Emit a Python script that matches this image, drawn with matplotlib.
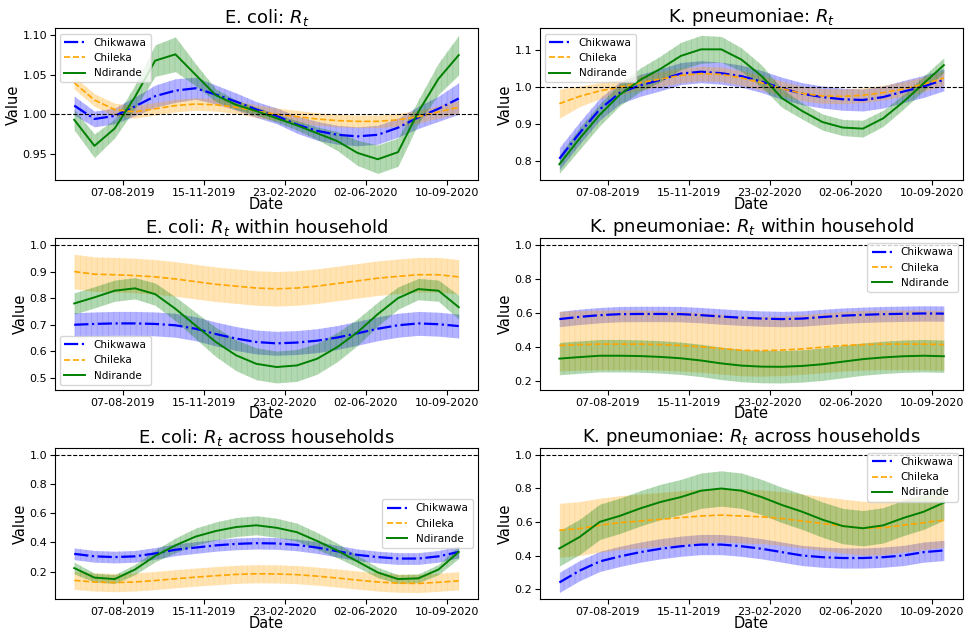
import matplotlib
matplotlib.use("Agg")
import matplotlib.pyplot as plt
import matplotlib.dates as mdates
import numpy as np
import pandas as pd

# dates of the Rt estimates (every 25 days)
dates = pd.date_range("2019-06-08", periods=20, freq="25D")
tick_dates = pd.to_datetime(["2019-08-07", "2019-11-15", "2020-02-23", "2020-06-02", "2020-09-10"])

sites = ["Chikwawa", "Chileka", "Ndirande"]

# E. coli: Rt
ecoli_rt_chikwawa = [1.011, 0.994, 0.998, 1.010, 1.023, 1.030, 1.033, 1.025, 1.016, 1.006,
                     0.998, 0.987, 0.979, 0.974, 0.972, 0.974, 0.983, 0.996, 1.007, 1.020]
ecoli_rt_chikwawa_err = [0.012, 0.010, 0.010, 0.012, 0.014, 0.015, 0.014, 0.012, 0.011, 0.010,
                         0.010, 0.011, 0.012, 0.012, 0.012, 0.012, 0.012, 0.014, 0.016, 0.020]
ecoli_rt_chileka = [1.040, 1.018, 1.006, 1.003, 1.007, 1.011, 1.013, 1.012, 1.009, 1.004,
                    1.000, 0.997, 0.994, 0.992, 0.991, 0.991, 0.993, 0.997, 1.003, 1.009]
ecoli_rt_chileka_err = 0.008
ecoli_rt_ndirande = [0.993, 0.960, 0.982, 1.022, 1.068, 1.076, 1.050, 1.024, 1.012, 1.004,
                     0.995, 0.986, 0.976, 0.966, 0.951, 0.943, 0.952, 1.003, 1.045, 1.075]
ecoli_rt_ndirande_err = [0.013, 0.015, 0.012, 0.015, 0.020, 0.022, 0.014, 0.008, 0.006, 0.005,
                         0.005, 0.006, 0.008, 0.012, 0.016, 0.018, 0.018, 0.015, 0.020, 0.025]

# K. pneumoniae: Rt
kp_rt_chikwawa = [0.805, 0.875, 0.940, 0.985, 1.005, 1.020, 1.037, 1.042, 1.038, 1.030,
                  1.015, 0.997, 0.982, 0.973, 0.967, 0.965, 0.973, 0.988, 1.002, 1.020]
kp_rt_chikwawa_err = 0.03
kp_rt_chileka = [0.955, 0.975, 0.990, 1.000, 1.012, 1.022, 1.032, 1.037, 1.035, 1.025,
                 1.012, 0.996, 0.983, 0.976, 0.975, 0.978, 0.985, 0.995, 1.008, 1.025]
kp_rt_chileka_err = [0.040, 0.028, 0.022, 0.020, 0.020, 0.020, 0.020, 0.020, 0.020, 0.020,
                     0.020, 0.020, 0.020, 0.020, 0.020, 0.020, 0.020, 0.020, 0.020, 0.020]
kp_rt_ndirande = [0.790, 0.860, 0.925, 0.980, 1.020, 1.050, 1.085, 1.103, 1.103, 1.075,
                  1.030, 0.970, 0.935, 0.905, 0.890, 0.887, 0.915, 0.960, 1.010, 1.060]
kp_rt_ndirande_err = [0.025, 0.030, 0.030, 0.030, 0.032, 0.035, 0.037, 0.038, 0.035, 0.032,
                      0.030, 0.025, 0.022, 0.022, 0.022, 0.023, 0.022, 0.020, 0.020, 0.020]

# E. coli: Rt within household
ecoli_within_chikwawa = [0.700, 0.703, 0.705, 0.705, 0.703, 0.698, 0.685, 0.665, 0.648, 0.635,
                         0.630, 0.633, 0.640, 0.652, 0.668, 0.685, 0.698, 0.705, 0.702, 0.695]
ecoli_within_chikwawa_err = 0.045
ecoli_within_chileka = [0.900, 0.890, 0.888, 0.885, 0.880, 0.872, 0.862, 0.852, 0.845, 0.838,
                        0.835, 0.838, 0.845, 0.855, 0.865, 0.875, 0.882, 0.888, 0.888, 0.880]
ecoli_within_chileka_err = 0.065
ecoli_within_ndirande = [0.780, 0.803, 0.828, 0.837, 0.815, 0.760, 0.697, 0.635, 0.585, 0.553,
                         0.541, 0.547, 0.572, 0.616, 0.672, 0.740, 0.800, 0.834, 0.828, 0.766]
ecoli_within_ndirande_err = [0.040, 0.040, 0.040, 0.040, 0.042, 0.045, 0.050, 0.055, 0.058, 0.060,
                             0.060, 0.060, 0.058, 0.055, 0.050, 0.045, 0.042, 0.040, 0.040, 0.045]

# K. pneumoniae: Rt within household
kp_within_chikwawa = [0.565, 0.578, 0.588, 0.594, 0.595, 0.595, 0.594, 0.588, 0.580, 0.573,
                      0.568, 0.565, 0.568, 0.577, 0.585, 0.590, 0.594, 0.596, 0.598, 0.597]
kp_within_chikwawa_err = 0.045
kp_within_chileka = [0.410, 0.415, 0.418, 0.418, 0.418, 0.415, 0.410, 0.403, 0.392, 0.382,
                     0.380, 0.383, 0.390, 0.400, 0.410, 0.415, 0.418, 0.418, 0.418, 0.415]
kp_within_chileka_err = (0.15, 0.20)
kp_within_ndirande = [0.333, 0.342, 0.350, 0.350, 0.348, 0.343, 0.335, 0.322, 0.305, 0.292,
                      0.286, 0.285, 0.290, 0.300, 0.315, 0.330, 0.340, 0.347, 0.350, 0.347]
kp_within_ndirande_err = 0.095

# E. coli: Rt across households
ecoli_across_chikwawa = [0.322, 0.305, 0.300, 0.305, 0.325, 0.350, 0.365, 0.380, 0.390, 0.395,
                         0.393, 0.383, 0.365, 0.340, 0.315, 0.300, 0.290, 0.290, 0.305, 0.335]
ecoli_across_chikwawa_err = 0.04
ecoli_across_chileka = [0.141, 0.130, 0.126, 0.130, 0.140, 0.152, 0.163, 0.173, 0.182, 0.186,
                        0.185, 0.180, 0.170, 0.157, 0.143, 0.130, 0.122, 0.120, 0.128, 0.138]
ecoli_across_chileka_err = 0.062
ecoli_across_ndirande = [0.225, 0.160, 0.150, 0.215, 0.308, 0.380, 0.440, 0.478, 0.505, 0.517,
                         0.500, 0.470, 0.410, 0.345, 0.270, 0.195, 0.150, 0.155, 0.215, 0.335]
ecoli_across_ndirande_err = [0.040, 0.030, 0.030, 0.035, 0.040, 0.050, 0.058, 0.062, 0.065, 0.065,
                             0.065, 0.062, 0.058, 0.050, 0.040, 0.035, 0.030, 0.030, 0.035, 0.045]

# K. pneumoniae: Rt across households
kp_across_chikwawa = [0.240, 0.310, 0.365, 0.395, 0.420, 0.440, 0.455, 0.465, 0.465, 0.455,
                      0.440, 0.420, 0.400, 0.390, 0.385, 0.385, 0.390, 0.400, 0.420, 0.430]
kp_across_chikwawa_err = 0.06
kp_across_chileka = [0.550, 0.560, 0.580, 0.595, 0.605, 0.615, 0.625, 0.635, 0.640, 0.635,
                     0.630, 0.620, 0.605, 0.590, 0.575, 0.562, 0.565, 0.580, 0.595, 0.610]
kp_across_chileka_err = 0.16
kp_across_ndirande = [0.442, 0.510, 0.600, 0.636, 0.680, 0.718, 0.747, 0.785, 0.798, 0.785,
                      0.747, 0.700, 0.660, 0.613, 0.575, 0.562, 0.579, 0.623, 0.660, 0.714]
kp_across_ndirande_err = 0.105

panels = [
    ("E. coli: $R_t$", [ecoli_rt_chikwawa, ecoli_rt_chileka, ecoli_rt_ndirande],
     [ecoli_rt_chikwawa_err, ecoli_rt_chileka_err, ecoli_rt_ndirande_err], "upper left"),
    ("K. pneumoniae: $R_t$", [kp_rt_chikwawa, kp_rt_chileka, kp_rt_ndirande],
     [kp_rt_chikwawa_err, kp_rt_chileka_err, kp_rt_ndirande_err], "upper left"),
    ("E. coli: $R_t$ within household", [ecoli_within_chikwawa, ecoli_within_chileka, ecoli_within_ndirande],
     [ecoli_within_chikwawa_err, ecoli_within_chileka_err, ecoli_within_ndirande_err], "lower left"),
    ("K. pneumoniae: $R_t$ within household", [kp_within_chikwawa, kp_within_chileka, kp_within_ndirande],
     [kp_within_chikwawa_err, kp_within_chileka_err, kp_within_ndirande_err], "upper right"),
    ("E. coli: $R_t$ across households", [ecoli_across_chikwawa, ecoli_across_chileka, ecoli_across_ndirande],
     [ecoli_across_chikwawa_err, ecoli_across_chileka_err, ecoli_across_ndirande_err], "center right"),
    ("K. pneumoniae: $R_t$ across households", [kp_across_chikwawa, kp_across_chileka, kp_across_ndirande],
     [kp_across_chikwawa_err, kp_across_chileka_err, kp_across_ndirande_err], "upper right"),
]

colors = ["blue", "orange", "green"]
styles = ["-.", "--", "-"]
widths = [1.6, 1.2, 1.4]

plt.rcParams["hatch.linewidth"] = 0.5

fig, axes = plt.subplots(3, 2, figsize=(9.65, 6.33))
fig.subplots_adjust(left=0.057, right=0.998, bottom=0.053, top=0.955, wspace=0.147, hspace=0.38)

for ax, (title, series, errs, loc) in zip(axes.flat, panels):
    for name, vals, err, c, ls, lw in zip(sites, series, errs, colors, styles, widths):
        vals = np.array(vals)
        if isinstance(err, tuple):
            lo, hi = vals - err[0], vals + err[1]
        else:
            lo, hi = vals - np.array(err), vals + np.array(err)
        ax.fill_between(dates, lo, hi, color=c, alpha=0.3, linewidth=0)
        # faint vertical strokes inside the interval band
        ax.fill_between(dates, lo, hi, facecolor="none", edgecolor=c, alpha=0.15,
                        linewidth=0, hatch="|||")
        ax.plot(dates, vals, ls, color=c, lw=lw, label=name)
    ax.axhline(1.0, color="black", linestyle="--", lw=0.8)
    ax.set_title(title, fontsize=13, pad=3)
    ax.set_xlabel("Date", fontsize=10.5, labelpad=-1)
    ax.set_ylabel("Value", fontsize=10.5, labelpad=1)
    ax.set_xticks(tick_dates)
    ax.xaxis.set_major_formatter(mdates.DateFormatter("%d-%m-%Y"))
    ax.tick_params(labelsize=8, pad=2)
    ax.legend(loc=loc, fontsize=7.5)

fig.savefig("out.png", dpi=100)
